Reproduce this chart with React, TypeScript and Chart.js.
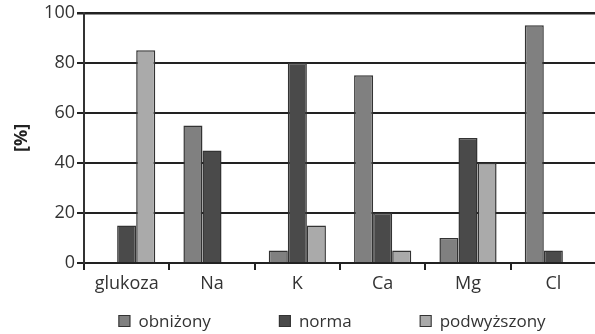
import React, { useEffect, useRef } from "react";
import { Chart, registerables } from "chart.js";

Chart.register(...registerables);

const categories = ["glukoza", "Na", "K", "Ca", "Mg", "Cl"];
const seriesNames = ["obniżony", "norma", "podwyższony"];
const obnizony = [0, 55, 5, 75, 10, 95];
const norma = [15, 45, 80, 20, 50, 5];
const podwyzszony = [85, 0, 15, 5, 40, 0];
const yTicks = [0, 20, 40, 60, 80, 100];

const colors = ["#808080", "#4a4a4a", "#aaaaaa"];
const FONT = '"Open Sans", sans-serif';

const legendPlugin = {
  id: "customLegend",
  afterDraw(chart: any) {
    const ctx = chart.ctx as CanvasRenderingContext2D;
    ctx.save();
    ctx.font = `17px ${FONT}`;
    const box = 12;
    const gapText = 8;
    const gap = 68;
    const items = chart.data.datasets.map((d: any) => ({
      label: d.label,
      color: d.backgroundColor,
      w: box + gapText + ctx.measureText(d.label).width,
    }));
    const total = items.reduce((s: number, it: any) => s + it.w, 0) + gap * (items.length - 1);
    const ca = chart.chartArea;
    let x = (ca.left + ca.right) / 2 - total / 2 - 8;
    const y = chart.height - 13;
    ctx.textBaseline = "middle";
    ctx.textAlign = "left";
    for (const it of items) {
      ctx.fillStyle = it.color;
      ctx.fillRect(x, y - box / 2, box, box);
      ctx.strokeStyle = "#333";
      ctx.lineWidth = 1;
      ctx.strokeRect(x + 0.5, y - box / 2 + 0.5, box - 1, box - 1);
      ctx.fillStyle = "#333";
      ctx.fillText(it.label, x + box + gapText, y + 1);
      x += it.w + gap;
    }
    ctx.restore();
  },
};

export default function App() {
  const ref = useRef<HTMLCanvasElement>(null);
  useEffect(() => {
    if (!ref.current) return;
    const values = [obnizony, norma, podwyzszony];
    const chart = new Chart(ref.current, {
      type: "bar",
      data: {
        labels: categories,
        datasets: seriesNames.map((name, i) => ({
          label: name,
          data: values[i],
          backgroundColor: colors[i],
          borderColor: "#333333",
          borderWidth: 1.5,
          categoryPercentage: 0.67,
          barPercentage: 1.0,
        })),
      },
      options: {
        responsive: false,
        animation: false,
        devicePixelRatio: 1,
        layout: { padding: { top: 7, right: 0, bottom: 31, left: 0 } },
        plugins: {
          legend: { display: false },
          tooltip: { enabled: false },
        },
        scales: {
          x: {
            offset: true,
            grid: {
              display: true,
              drawOnChartArea: false,
              drawTicks: true,
              tickLength: 7,
              color: "#222222",
              lineWidth: 2,
              offset: true,
            },
            border: { display: true, color: "#222222", width: 2 },
            ticks: {
              color: "#333333",
              font: { family: FONT, size: 18 },
              padding: 3,
              maxRotation: 0,
              autoSkip: false,
            },
            afterFit: (s: any) => {
              s.height = 40;
            },
          },
          y: {
            min: 0,
            max: 100,
            afterBuildTicks: (s: any) => {
              s.ticks = yTicks.map((v) => ({ value: v }));
            },
            grid: {
              color: "#222222",
              lineWidth: (c: any) => (c.tick && c.tick.value === 100 ? 2.5 : 2),
              tickLength: 7,
            },
            border: { display: true, color: "#333333", width: 2 },
            ticks: {
              color: "#333333",
              font: { family: FONT, size: 18 },
              padding: 2,
            },
            title: {
              display: true,
              text: "[%]",
              color: "#222222",
              font: { family: FONT, size: 18, weight: "bold" },
              padding: { top: 11, bottom: 4 },
            },
            afterFit: (s: any) => {
              s.width = 84;
            },
          },
        },
      },
      plugins: [legendPlugin],
    });
    return () => chart.destroy();
  }, []);
  return (
    <div style={{ position: "fixed", left: 0, top: 0, width: 596, height: 334, background: "#fff" }}>
      <canvas ref={ref} width={596} height={334} style={{ width: 596, height: 334 }} />
    </div>
  );
}
